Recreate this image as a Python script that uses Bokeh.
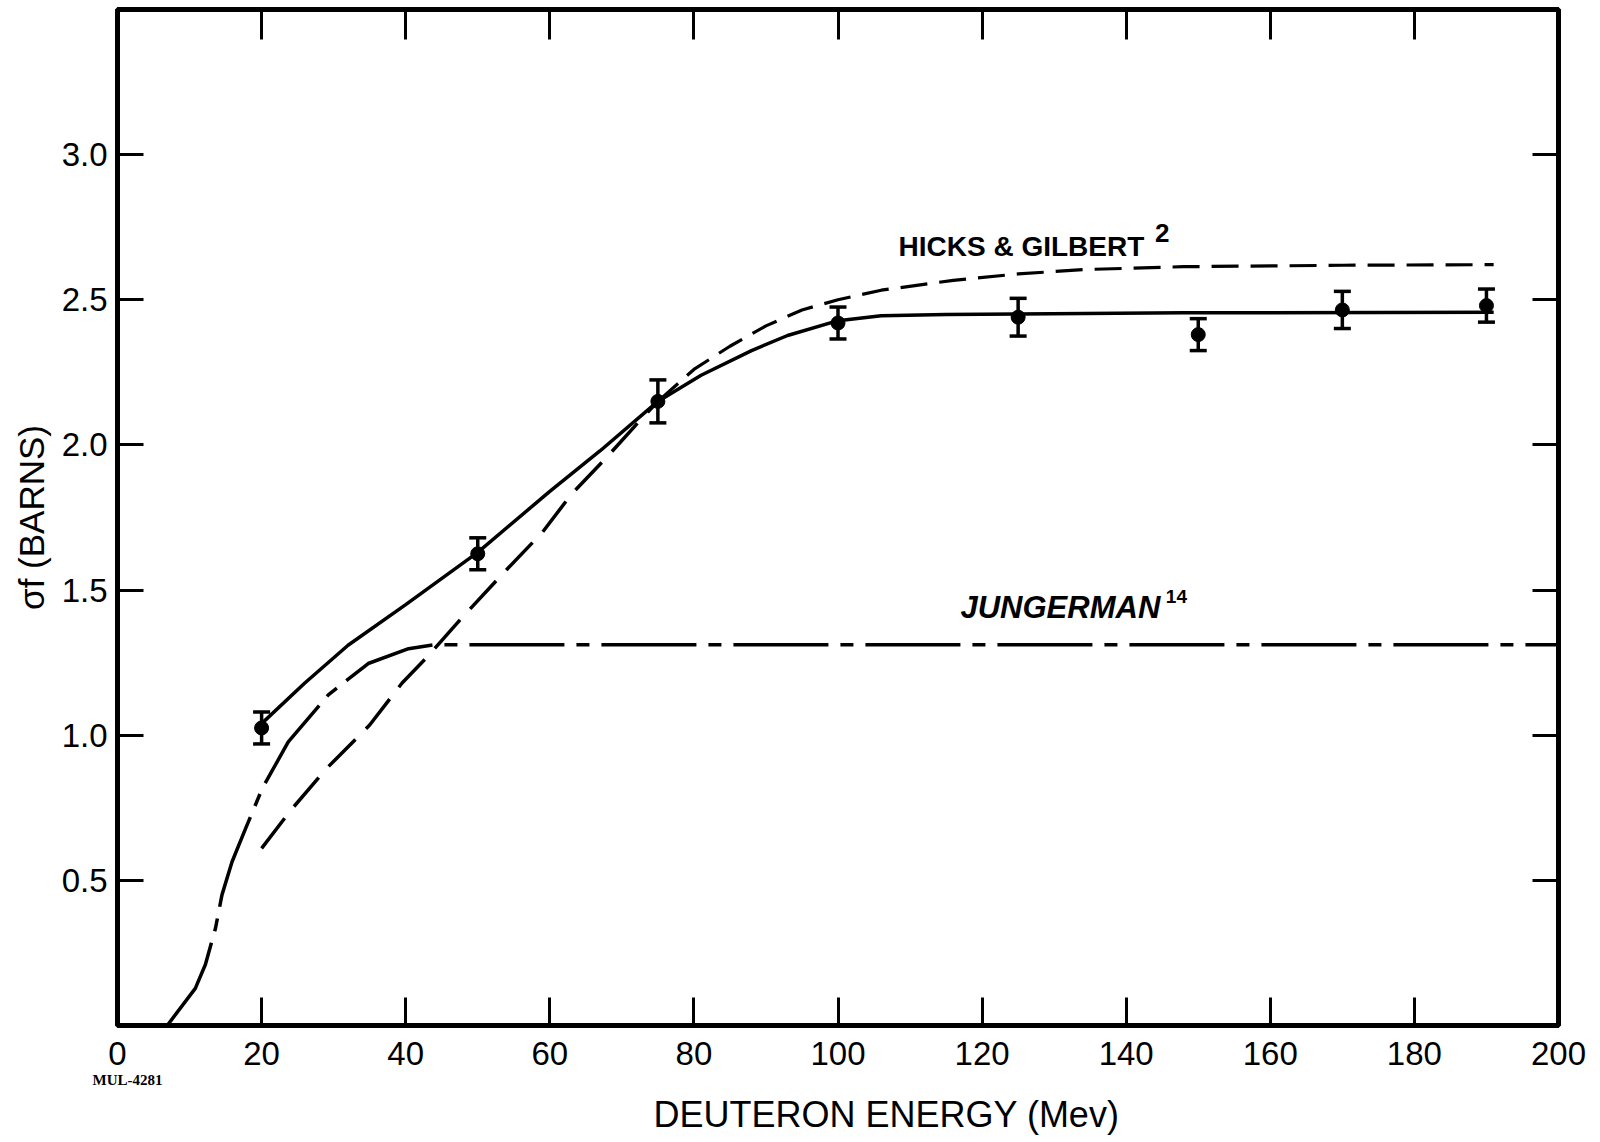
from bokeh.plotting import figure
from bokeh.models import (Range1d, FixedTicker, LinearAxis, Label, Whisker,
                          TeeHead, ColumnDataSource, Title)
from bokeh.embed import file_html
from bokeh.resources import INLINE

# ---------------- data ----------------
x_ticks = [0, 20, 40, 60, 80, 100, 120, 140, 160, 180, 200]
x_tick_labels = ["0", "20", "40", "60", "80", "100", "120", "140", "160", "180", "200"]
top_ticks = [20, 40, 60, 80, 100, 120, 140, 160, 180]
y_ticks = [0.5, 1.0, 1.5, 2.0, 2.5, 3.0]
y_tick_labels = ["0.5", "1.0", "1.5", "2.0", "2.5", "3.0"]

# measured points with error bars
pt_energy = [20, 50, 75, 100, 125, 150, 170, 190]
pt_sigma = [1.025, 1.625, 2.15, 2.42, 2.44, 2.38, 2.465, 2.48]
pt_err = [0.055, 0.055, 0.074, 0.055, 0.065, 0.055, 0.064, 0.057]

# solid curve through the measurements
solid_energy = [20, 26, 32, 40, 50, 60, 67, 75, 81, 88, 93, 100, 106, 115, 125, 148, 191]
solid_sigma = [1.04, 1.18, 1.31, 1.45, 1.63, 1.84, 1.98, 2.15, 2.24, 2.325, 2.377, 2.428,
               2.445, 2.449, 2.451, 2.455, 2.457]

# Hicks & Gilbert (dashed)
hicks_energy = [20, 24, 29, 35, 39.5, 43, 48, 54, 59, 63, 68, 72, 75,
                80, 85, 90, 95, 100, 106, 116, 125, 134, 148, 170, 191]
hicks_sigma = [0.61, 0.74, 0.885, 1.035, 1.18, 1.27, 1.41, 1.57, 1.70, 1.83, 1.96, 2.07, 2.15,
               2.26, 2.34, 2.41, 2.465, 2.50, 2.533, 2.567, 2.589, 2.604, 2.614, 2.619, 2.621]

# Jungerman (dash-dot)
jung_energy = [6.9, 10.8, 12.2, 13.6, 14.5, 15.9, 17.8, 20.1, 23.7, 29.3, 34.8, 40.4, 44.1, 200]
jung_sigma = [0.0, 0.128, 0.21, 0.335, 0.45, 0.564, 0.68, 0.817, 0.977, 1.14, 1.247, 1.298,
              1.312, 1.312]

FONT = "Liberation Sans"

p = figure(width=1592, height=1142, x_range=Range1d(0, 200), y_range=Range1d(0, 3.5),
           output_backend="svg", toolbar_location=None,
           min_border_left=117, min_border_right=34, min_border_top=9, min_border_bottom=117)
p.xgrid.visible = False
p.ygrid.visible = False
p.outline_line_color = "black"
p.outline_line_width = 5
p.background_fill_color = "white"
p.border_fill_color = "white"


def style_axis(ax, ticks, labels, tick_len, standoff):
    ax.ticker = FixedTicker(ticks=ticks)
    ax.major_label_overrides = {t: l for t, l in zip(ticks, labels)}
    ax.major_tick_in = tick_len
    ax.major_tick_out = 0
    ax.major_tick_line_width = 3
    ax.major_tick_line_color = "black"
    ax.minor_tick_line_color = None
    ax.axis_line_width = 5
    ax.axis_line_color = "black"
    ax.major_label_text_font = FONT
    ax.major_label_text_font_size = "33px"
    ax.major_label_text_color = "black"
    ax.major_label_standoff = standoff


style_axis(p.xaxis[0], x_ticks, x_tick_labels, 28, 16)
style_axis(p.yaxis[0], y_ticks, y_tick_labels, 26, 10)

yax = p.yaxis[0]
yax.axis_label = "σf (BARNS)"
yax.axis_label_text_font = FONT
yax.axis_label_text_font_size = "35px"
yax.axis_label_text_font_style = "normal"
yax.axis_label_text_color = "black"
yax.axis_label_standoff = 8

top_ax = LinearAxis()
style_axis(top_ax, top_ticks, [""] * len(top_ticks), 30, 0)
p.add_layout(top_ax, "above")
right_ax = LinearAxis()
style_axis(right_ax, y_ticks, [""] * len(y_ticks), 26, 0)
p.add_layout(right_ax, "right")

# bottom texts (stacked below the x axis)
p.add_layout(Title(text="MUL-4281", align="left", offset=-25, standoff=4,
                   text_font="Liberation Serif", text_font_size="15px",
                   text_font_style="bold", text_color="black"), "below")
p.add_layout(Title(text="DEUTERON ENERGY (Mev)", align="left", offset=536, standoff=4,
                   text_font=FONT, text_font_size="36px", text_font_style="normal",
                   text_color="black"), "below")

# curves
p.line(solid_energy, solid_sigma, line_color="black", line_width=3.5)

split = hicks_energy.index(75)
p.line(hicks_energy[:split + 1], hicks_sigma[:split + 1], line_color="black",
       line_width=3.5, line_dash="38 15")
p.line(hicks_energy[split:], hicks_sigma[split:], line_color="black",
       line_width=3.2, line_dash="27 12")

p.line(jung_energy, jung_sigma, line_color="black", line_width=3.5,
       line_dash="95 12 13 12")

# points with error bars
src = ColumnDataSource(dict(
    x=pt_energy, y=pt_sigma,
    upper=[s + e for s, e in zip(pt_sigma, pt_err)],
    lower=[s - e for s, e in zip(pt_sigma, pt_err)],
))
p.add_layout(Whisker(source=src, base="x", upper="upper", lower="lower",
                     line_color="black", line_width=3.5,
                     upper_head=TeeHead(size=17, line_width=3.5, line_color="black"),
                     lower_head=TeeHead(size=17, line_width=3.5, line_color="black")))
p.scatter("x", "y", source=src, size=14, color="black")

# curve labels
p.add_layout(Label(x=108.4, y=2.63, text="HICKS & GILBERT", text_font=FONT,
                   text_font_size="28px", text_font_style="bold", text_color="black"))
p.add_layout(Label(x=144.0, y=2.70, text="2", text_font=FONT,
                   text_font_size="26px", text_font_style="bold", text_color="black"))
p.add_layout(Label(x=117.0, y=1.38, text="JUNGERMAN", text_font=FONT,
                   text_font_size="31px", text_font_style="bold italic", text_color="black"))
p.add_layout(Label(x=145.5, y=1.455, text="14", text_font=FONT,
                   text_font_size="19px", text_font_style="bold", text_color="black"))

open("out.html", "w").write(file_html(p, INLINE))
